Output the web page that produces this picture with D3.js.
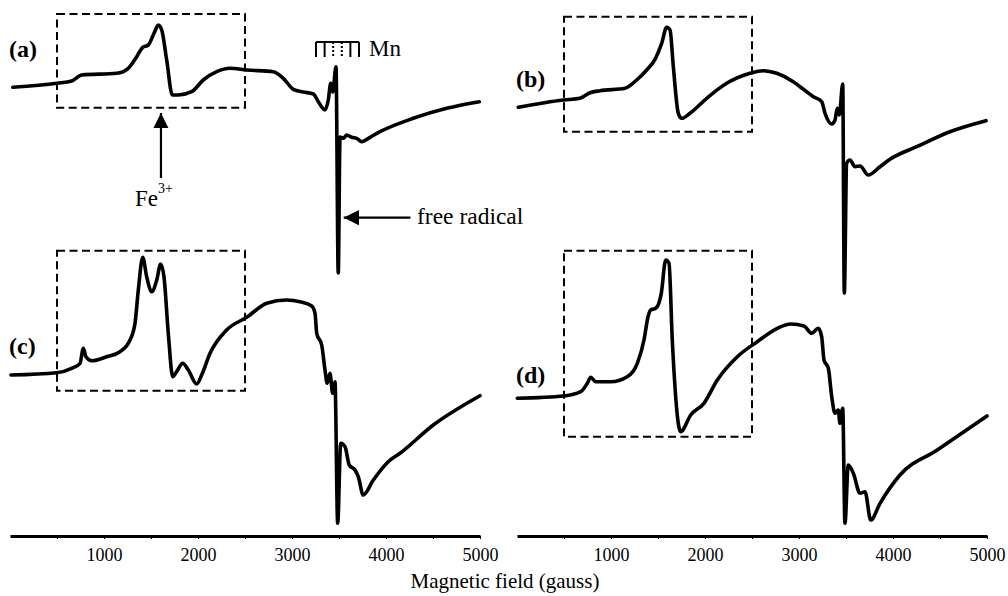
<!DOCTYPE html>
<html>
<head>
<meta charset="utf-8">
<script src="https://cdn.jsdelivr.net/npm/d3@7"></script>
<style>
  body { margin: 0; background: #fff; }
  svg { display: block; }
  text { font-family: "Liberation Serif", "Times New Roman", serif; fill: #000; }
</style>
</head>
<body>
<div id="chart"></div>
<script>
// EPR spectra, field in gauss, signal in arbitrary units
let fieldA = [30, 500, 656, 763, 1135, 1258, 1348, 1412, 1471, 1532, 1578, 1614, 1667, 1727, 1790, 1933, 2056, 2199, 2340, 2518, 2801, 2907, 3014, 3120, 3227, 3280, 3351, 3386, 3412, 3433, 3468, 3492, 3511, 3546, 3582, 3635, 3688, 3741, 3830, 3936, 4290, 4646, 4993];
let signalA = [62.7, 66.7, 69, 75, 76.7, 81.7, 93.3, 102.7, 105, 116.7, 125, 120, 90, 55, 55, 58.3, 70, 78.3, 81.7, 80, 78.3, 71.7, 60.7, 58, 56, 48.3, 40, 50, 66.7, 58, 83.3, -123, 13, 11.7, 15, 12.7, 11.7, 8.3, 12.7, 18.3, 31.7, 41.7, 48.3];

let fieldB = [14, 493, 670, 777, 883, 1149, 1273, 1380, 1468, 1539, 1592, 1628, 1663, 1716, 1752, 1840, 2018, 2231, 2479, 2620, 2763, 2939, 3011, 3152, 3241, 3277, 3348, 3383, 3407, 3429, 3465, 3482, 3507, 3542, 3596, 3649, 3737, 3862, 3968, 4252, 4606, 4989];
let signalB = [42.7, 50, 51.7, 57.3, 59.3, 61.7, 70, 80, 90.7, 106.7, 122.7, 120, 83.3, 36.7, 31.7, 36.7, 51.7, 66.7, 76.7, 79.3, 76.7, 68.3, 63.3, 53.3, 48.3, 36.7, 26, 30, 41.7, 35, 66, -143, -13.3, -10, -16.7, -16, -25, -16.7, -9.3, 3.3, 18.3, 29.3];

let fieldC = [10, 497, 656, 745, 780, 808, 869, 1029, 1170, 1277, 1330, 1365, 1412, 1454, 1507, 1561, 1603, 1638, 1684, 1731, 1773, 1837, 1897, 1986, 2039, 2128, 2305, 2518, 2731, 2943, 3085, 3210, 3245, 3263, 3316, 3351, 3375, 3404, 3433, 3457, 3486, 3518, 3564, 3609, 3670, 3705, 3758, 3865, 4024, 4149, 4503, 5000];
let signalC = [20, 22.3, 26.7, 31.7, 46.7, 38.3, 34.3, 38.3, 43.3, 55, 71.7, 105, 137.7, 118.3, 103.3, 115, 131, 118.3, 61.7, 18.3, 23.3, 31.7, 25, 11, 20, 41.7, 65, 77.7, 91.7, 95, 93.3, 89, 81.7, 61.7, 50, 25, 11.7, 21.7, 1.7, 13.3, -128.3, -48.3, -51.7, -70, -75, -81.7, -100, -85, -66.7, -58.3, -30, -0.7];

let fieldD = [3, 500, 678, 748, 784, 837, 997, 1173, 1280, 1351, 1394, 1422, 1476, 1535, 1582, 1617, 1652, 1741, 1848, 1989, 2131, 2344, 2556, 2769, 2912, 3053, 3135, 3205, 3241, 3266, 3312, 3348, 3383, 3418, 3436, 3465, 3489, 3524, 3578, 3649, 3702, 3763, 3862, 4074, 4471, 5000];
let signalD = [-3.3, -1, 3.3, 11.7, 17.7, 13.3, 13.3, 18.3, 31.7, 55, 78.3, 85, 86.7, 101.7, 135, 131.7, 55, -36.7, -20, -8.3, 15, 38.3, 53.3, 66.7, 71, 69, 61.7, 66.7, 58.3, 35, 26.7, -1.7, -18.3, -15, -28.3, -13.3, -128.3, -70, -78.3, -98.3, -96.7, -125, -108.3, -80, -55, -21];

let panelNames = ['(a)', '(b)', '(c)', '(d)'];
// zoomed Fe3+ region (gauss) and its box height for each panel
let boxField = [500, 2500];
let boxSignal = [[42.3, 136], [18.3, 133.3], [4.3, 144.3], [-41.7, 144.3]];
let tickGauss = [500, 1000, 1500, 2000, 2500, 3000, 3500, 4000, 4500, 5000];
let tickLabels = ['1000', '2000', '3000', '4000', '5000'];
let mnLines = [3255, 3347, 3438, 3530, 3621, 3713];

let W = 1008, H = 596;
let svg = d3.select('#chart').append('svg').attr('width', W).attr('height', H);

let xRanges = [[10, 480], [517, 987]];
let yRanges = [[300, 0], [545, 245]];   // top row, bottom row
let axisY = 536;

let panels = [
  { name: panelNames[0], field: fieldA, sig: signalA, col: 0, row: 0, box: boxSignal[0], lab: 93 },
  { name: panelNames[1], field: fieldB, sig: signalB, col: 1, row: 0, box: boxSignal[1], lab: 63 },
  { name: panelNames[2], field: fieldC, sig: signalC, col: 0, row: 1, box: boxSignal[2], lab: 41 },
  { name: panelNames[3], field: fieldD, sig: signalD, col: 1, row: 1, box: boxSignal[3], lab: 12 }
];

let scales = [];
panels.forEach(function(p) {
  let x = d3.scaleLinear().domain([0, 5000]).range(xRanges[p.col]);
  let y = d3.scaleLinear().domain([-150, 150]).range(yRanges[p.row]);
  scales.push({ x: x, y: y });

  // dashed box round the Fe3+ signal
  svg.append('rect')
    .attr('x', x(boxField[0]))
    .attr('y', y(p.box[1]))
    .attr('width', x(boxField[1]) - x(boxField[0]))
    .attr('height', y(p.box[0]) - y(p.box[1]))
    .attr('fill', 'none')
    .attr('stroke', '#000')
    .attr('stroke-width', 2)
    .attr('stroke-dasharray', '8,4.5');

  let line = d3.line()
    .x(d => x(d[0]))
    .y(d => y(d[1]))
    .curve(d3.curveMonotoneX);

  svg.append('path')
    .datum(d3.zip(p.field, p.sig))
    .attr('d', line)
    .attr('fill', 'none')
    .attr('stroke', '#000')
    .attr('stroke-width', 3.6)
    .attr('stroke-linejoin', 'round')
    .attr('stroke-linecap', 'round');

  svg.append('text')
    .attr('x', x(0) - 1)
    .attr('y', y(p.lab))
    .attr('font-size', 24)
    .attr('font-weight', 'bold')
    .text(p.name);
});

// x axes under the bottom row
[0, 1].forEach(function(c) {
  let x = d3.scaleLinear().domain([0, 5000]).range(xRanges[c]);
  let g = svg.append('g')
    .attr('transform', 'translate(0,' + axisY + ')')
    .call(d3.axisBottom(x)
      .tickValues(tickGauss)
      .tickSizeInner(3)
      .tickSizeOuter(0)
      .tickPadding(9)
      .tickFormat(d => tickLabels.indexOf(String(d)) >= 0 ? String(d) : ''));
  g.select('.domain').attr('stroke-width', 2.8);
  g.selectAll('.tick line').attr('stroke-width', 1);
  g.selectAll('.tick text')
    .attr('font-size', 18)
    .attr('font-family', '"Liberation Serif", "Times New Roman", serif');
});

svg.append('text')
  .attr('x', 505)
  .attr('y', 588)
  .attr('text-anchor', 'middle')
  .attr('font-size', 21)
  .text('Magnetic field (gauss)');

// annotations on panel (a)
let xa = scales[0].x, ya = scales[0].y;

svg.append('defs').append('marker')
  .attr('id', 'head')
  .attr('viewBox', '0 0 10 10')
  .attr('refX', 10).attr('refY', 5)
  .attr('markerWidth', 7).attr('markerHeight', 7)
  .attr('markerUnits', 'strokeWidth')
  .attr('orient', 'auto')
  .append('path')
  .attr('d', 'M0,0L10,5L0,10Z')
  .attr('fill', '#000');

// Fe3+ arrow
svg.append('line')
  .attr('x1', xa(1606)).attr('y1', ya(-28))
  .attr('x2', xa(1606)).attr('y2', ya(37))
  .attr('stroke', '#000').attr('stroke-width', 2.2)
  .attr('marker-end', 'url(#head)');
let fe = svg.append('text')
  .attr('x', xa(1330))
  .attr('y', ya(-56))
  .attr('font-size', 23);
fe.append('tspan').text('Fe');
fe.append('tspan').attr('font-size', 14).attr('dy', -13).text('3+');

// free radical arrow
svg.append('line')
  .attr('x1', xa(4260)).attr('y1', ya(-67.7))
  .attr('x2', xa(3550)).attr('y2', ya(-67.7))
  .attr('stroke', '#000').attr('stroke-width', 2.2)
  .attr('marker-end', 'url(#head)');
svg.append('text')
  .attr('x', xa(4330))
  .attr('y', ya(-74))
  .attr('font-size', 23.5)
  .text('free radical');

// Mn hyperfine sextet comb
svg.append('line')
  .attr('x1', xa(mnLines[0])).attr('x2', xa(mnLines[5]))
  .attr('y1', ya(108)).attr('y2', ya(108))
  .attr('stroke', '#000').attr('stroke-width', 2);
svg.selectAll('.mn')
  .data(mnLines)
  .enter()
  .append('line')
  .attr('x1', d => xa(d)).attr('x2', d => xa(d))
  .attr('y1', ya(108)).attr('y2', ya(93))
  .attr('stroke', '#000')
  .attr('stroke-width', 2)
  .attr('stroke-dasharray', (d, i) => (i === 2 || i === 3) ? '2,2' : null);
svg.append('text')
  .attr('x', xa(mnLines[5]) + 10)
  .attr('y', ya(94))
  .attr('font-size', 23)
  .text('Mn');
</script>
</body>
</html>
